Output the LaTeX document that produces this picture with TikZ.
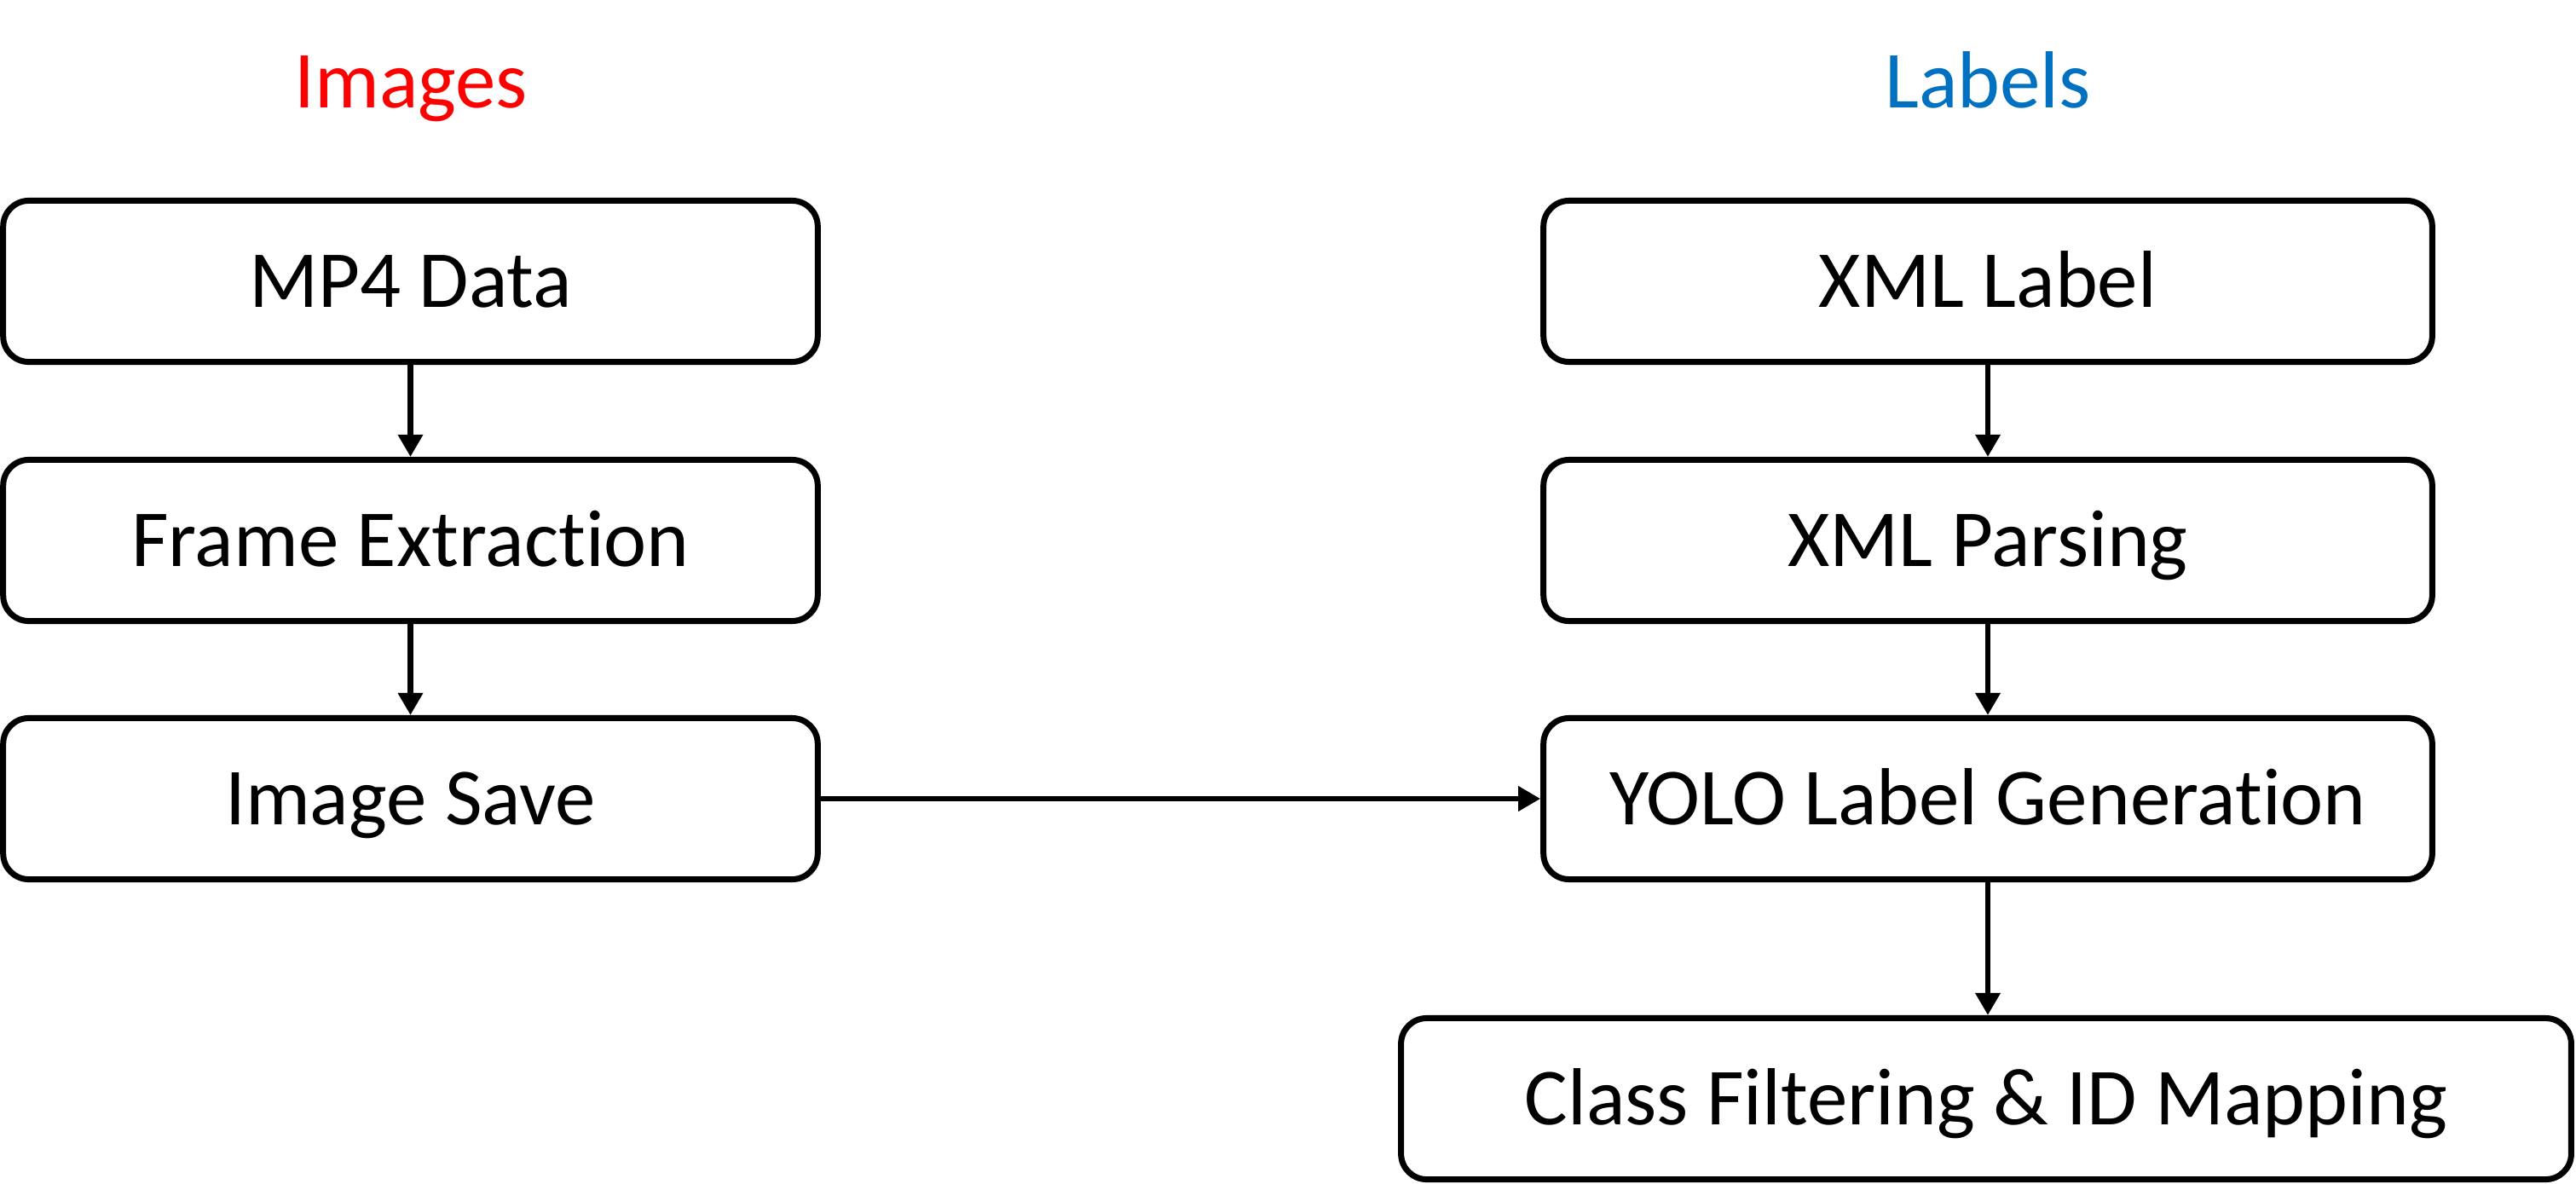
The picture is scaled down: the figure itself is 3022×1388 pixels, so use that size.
\documentclass[tikz,border=0pt]{standalone}
\usepackage{fontspec}
\setmainfont{Carlito}[RawFeature={-liga;-clig;-calt;-dlig}]
\usetikzlibrary{arrows.meta}
\definecolor{titlered}{HTML}{FF0000}
\definecolor{titleblue}{HTML}{0070C0}
\begin{document}
\begin{tikzpicture}[x=0.01cm,y=-0.01cm,
  stepbox/.style={draw=black, line width=0.07cm, rounded corners=0.3cm,
    font=\fontsize{27}{32}\selectfont, text height=17.4pt, text depth=0pt,
    minimum height=1.89cm, inner sep=0pt},
  leftbox/.style={stepbox, minimum width=9.55cm},
  rightbox/.style={stepbox, minimum width=10.42cm},
  title/.style={font=\fontsize{27}{32}\selectfont, text height=17.4pt, text depth=0pt, inner sep=0pt},
  flow/.style={line width=0.065cm, -{Triangle[width=0.28cm,length=0.26cm]}}
]
\useasboundingbox (0,0) rectangle (3022,1388);
\fill[white] (0,0) rectangle (3022,1388);

\node[title, text=titlered] (imgtitle) at (482,96) {Images};
\node[title, text=titleblue] (lbltitle) at (2332,96) {Labels};

\node[leftbox] (mp4) at (481.5,330) {MP4 Data};
\node[leftbox] (frame) at (481.5,634) {Frame Extrac{}tion};
\node[leftbox] (save) at (481.5,937) {Image Save};

\node[rightbox] (xml) at (2332,330) {XML Label};
\node[rightbox] (parse) at (2332,634) {XML Parsing};
\node[rightbox] (yolo) at (2332,937) {YOLO Label Genera{}tion};

\node[stepbox, minimum width=13.72cm] (class) at (2330,1289) {Class Filtering \& ID Mapping};

\draw[flow] (mp4) -- (frame);
\draw[flow] (frame) -- (save);
\draw[flow] (xml) -- (parse);
\draw[flow] (parse) -- (yolo);
\draw[flow] (save) -- (yolo);
\draw[flow] (yolo.south) -- (yolo.south |- class.north);
\end{tikzpicture}
\end{document}
